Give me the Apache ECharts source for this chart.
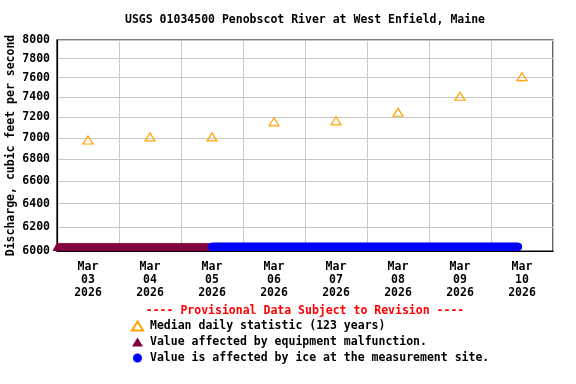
<!DOCTYPE html>
<html>
<head>
<meta charset="utf-8">
<script src="https://cdn.jsdelivr.net/npm/echarts@6/dist/echarts.min.js"></script>
<style>html,body{margin:0;padding:0;background:#fff}#c{width:576px;height:384px}</style>
</head>
<body>
<div id="c"></div>
<script>
// ---- data ----
var titleText = 'USGS 01034500 Penobscot River at West Enfield, Maine';
var provisionalText = '---- Provisional Data Subject to Revision ----';
var yAxisName = 'Discharge, cubic feet per second';
var yTicks = [6000, 6200, 6400, 6600, 6800, 7000, 7200, 7400, 7600, 7800, 8000];
var days = ['2026-03-03', '2026-03-04', '2026-03-05', '2026-03-06', '2026-03-07', '2026-03-08', '2026-03-09', '2026-03-10'];
var medianValues = [6980, 7010, 7010, 7155, 7165, 7250, 7410, 7610];
var medianName = 'Median daily statistic (123 years)';
var equipName = 'Value affected by equipment malfunction.';
var iceName = 'Value is affected by ice at the measurement site.';
// qualifier periods (15-minute readings, plotted at graph floor)
var equipPeriod = ['2026-03-03T00:00', '2026-03-05T11:00'];
var icePeriod = ['2026-03-05T12:00', '2026-03-10T10:30'];
var floorValue = 6035;
var axisStart = '2026-03-03T00:00';
var axisEnd = '2026-03-11T00:00';
var months = ['Jan','Feb','Mar','Apr','May','Jun','Jul','Aug','Sep','Oct','Nov','Dec'];

function t(s) { return new Date(s + (s.length === 10 ? 'T00:00' : '') + ':00Z').getTime(); }
var HOUR = 3600000, DAY = 86400000, STEP = 15 * 60000;
function periodPoints(p) {
  var out = [];
  for (var x = t(p[0]); x <= t(p[1]); x += STEP) out.push([x, floorValue]);
  return out;
}
var medianData = days.map(function (d, i) { return [t(d) + 12 * HOUR, medianValues[i]]; });
var noonTicks = days.map(function (d) { return t(d) + 12 * HOUR; });

var FONT = 'DejaVu Sans Mono';
var FS = 11.5;
var chart = echarts.init(document.getElementById('c'));
chart.setOption({
  animation: false,
  backgroundColor: '#fff',
  title: [
    { text: titleText, left: 305, textAlign: 'center', top: 14, padding: 0,
      textStyle: { fontFamily: FONT, fontSize: FS, fontWeight: 'bold', color: '#000' } },
    { text: provisionalText, left: 305, textAlign: 'center', top: 305, padding: 0,
      textStyle: { fontFamily: FONT, fontSize: FS, fontWeight: 'bold', color: '#ff0000' } }
  ],
  legend: {
    orient: 'vertical', left: 131, top: 320, itemGap: 4, itemWidth: 11, itemHeight: 9,
    padding: 0, selectedMode: false,
    textStyle: { fontFamily: FONT, fontSize: FS, fontWeight: 'bold', color: '#000', padding: [0, 0, 0, 2] },
    data: [medianName, equipName, iceName]
  },
  grid: { left: 57, top: 40, width: 496, height: 211, outerBoundsMode: 'none', containLabel: false,
    show: true, borderColor: '#000', borderWidth: 1.2 },
  xAxis: {
    type: 'value', min: t(axisStart), max: t(axisEnd), interval: DAY,
    axisLine: { show: true, onZero: false, lineStyle: { color: '#000', width: 1.2 } },
    axisTick: { show: false },
    splitLine: { show: true, lineStyle: { color: '#c8c8c8', width: 1 } },
    axisLabel: {
      customValues: noonTicks, margin: 9, lineHeight: 13.3,
      fontFamily: FONT, fontSize: FS, fontWeight: 'bold', color: '#000',
      formatter: function (v) {
        var d = new Date(v);
        var dd = ('0' + d.getUTCDate()).slice(-2);
        return months[d.getUTCMonth()] + '\n' + dd + '\n' + d.getUTCFullYear();
      }
    }
  },
  yAxis: {
    type: 'log', logBase: 10, min: 6000, max: 8000,
    name: yAxisName, nameLocation: 'middle', nameGap: 40, nameRotate: 90, nameMoveOverlap: false,
    nameTextStyle: { fontFamily: FONT, fontSize: FS, fontWeight: 'bold', color: '#000' },
    axisLine: { show: true, lineStyle: { color: '#000', width: 1.2 } },
    axisTick: { show: false, customValues: yTicks },
    splitLine: { show: true, lineStyle: { color: '#c8c8c8', width: 1 } },
    axisLabel: { customValues: yTicks, margin: 7, fontFamily: FONT, fontSize: FS, fontWeight: 'bold', color: '#000',
      formatter: function (v) { return String(Math.round(v)); } }
  },
  series: [
    { name: equipName, type: 'scatter', data: periodPoints(equipPeriod), symbol: 'triangle', symbolSize: [9, 8],
      itemStyle: { color: '#80003f', opacity: 1 }, clip: false, z: 3 },
    { name: iceName, type: 'scatter', data: periodPoints(icePeriod), symbol: 'circle', symbolSize: 8,
      itemStyle: { color: '#0000ff', opacity: 1 }, clip: false, z: 3 },
    { name: medianName, type: 'scatter', data: medianData, symbol: 'triangle', symbolSize: [10, 8],
      itemStyle: { color: 'rgba(0,0,0,0)', borderColor: '#ffa500', borderWidth: 1.2, opacity: 1 }, z: 4 }
  ]
});
</script>
</body>
</html>
